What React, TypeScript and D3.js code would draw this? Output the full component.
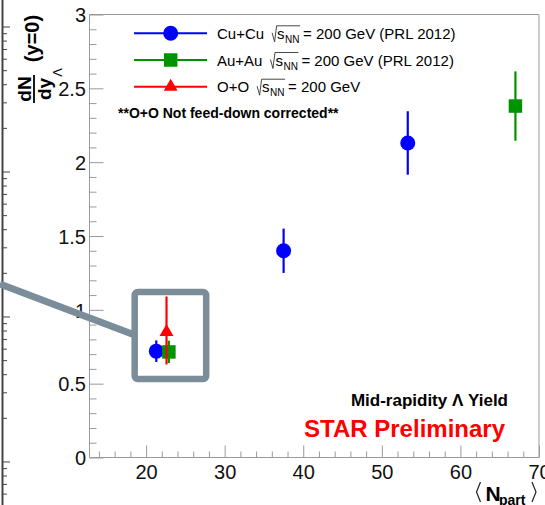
import React, {useEffect, useRef} from 'react';
import * as d3 from 'd3';

// Cu+Cu (PRL 2012)
const cuNpart = [21.3, 37.5, 53.3];
const cuYield = [0.72, 1.40, 2.13];
const cuErr = [0.073, 0.15, 0.215];

// Au+Au (PRL 2012)
const auNpart = [22.9, 67.0];
const auYield = [0.715, 2.38];
const auErr = [0.076, 0.235];

// O+O, asymmetric bars
const ooNpart = [22.6];
const ooYield = [0.85];
const ooErrLo = [0.22];
const ooErrHi = [0.24];

const xTicks = [20, 30, 40, 50, 60, 70];
const yTicks = [0, 0.5, 1, 1.5, 2, 2.5, 3];
const yTickLabels = ['0', '0.5', '1', '1.5', '2', '2.5', '3'];

const legendNames = ['Cu+Cu', 'Au+Au', 'O+O'];
const legendTails = ['= 200 GeV (PRL 2012)', '= 200 GeV (PRL 2012)', '= 200 GeV'];
const legendColors = ['#0000ff', '#009300', '#ff0000'];
const legendShapes = ['circle', 'square', 'triangle'];

// zoom box around the small systems, data units: [x0, x1, y0, y1]
const zoomBox = [18.55, 27.65, 0.531, 1.12];
const zoomLine = [1.4, 1.175, 18.55, 0.83];

const W = 545, H = 505;
const font = 'Liberation Sans, Arial, Helvetica, sans-serif';
const slate = '#7a8d98';
const frame = '#9a9a9a';

const symbolFor = (shape: string) => {
	if(shape === 'circle') return d3.symbol(d3.symbolCircle, 177)();
	if(shape === 'square') return d3.symbol(d3.symbolSquare, 182)();
	return d3.symbol(d3.symbolTriangle, 84)();
};

export default function App(){

	const svgRef = useRef<SVGSVGElement>(null);

	useEffect(() => {
		const svg = d3.select(svgRef.current);
		svg.selectAll('*').remove();

		const x = d3.scaleLinear().domain([12.8, 70]).range([89.5, 539]);
		const y = d3.scaleLinear().domain([0, 3]).range([457.5, 14.5]);

		//neighbouring pad's log axis peeking in at the left edge
		const ghost = d3.scaleLog().domain([0.5, 1500]).range([505.6, 1.5]);
		svg.append('line').attr('x1', 2.5).attr('x2', 2.5).attr('y1', 0).attr('y2', H)
			.attr('stroke', '#444').attr('stroke-width', 2);
		svg.append('g').selectAll('line').data(ghost.ticks()).join('line')
			.attr('x1', 2.5)
			.attr('x2', d => Math.abs(Math.log10(d) - Math.round(Math.log10(d))) < 1e-6 ? 10 : 7)
			.attr('y1', d => ghost(d)).attr('y2', d => ghost(d))
			.attr('stroke', '#444').attr('stroke-width', 1);

		//frame
		svg.append('line').attr('x1', 89.5).attr('x2', 539).attr('y1', 14.5).attr('y2', 14.5)
			.attr('stroke', frame);
		svg.append('line').attr('x1', 539).attr('x2', 539).attr('y1', 14.5).attr('y2', 457.5)
			.attr('stroke', '#cccccc').attr('stroke-width', 2);
		svg.append('line').attr('x1', 89.5).attr('x2', 89.5).attr('y1', 14.5).attr('y2', 457.5)
			.attr('stroke', frame);
		svg.append('line').attr('x1', 89.5).attr('x2', 539).attr('y1', 457.5).attr('y2', 457.5)
			.attr('stroke', frame);

		//axes
		const yMinor = d3.range(0, 30.5, 1).map(d => d / 10).filter(d => Math.abs(d * 2 - Math.round(d * 2)) > 1e-6);
		const xMinor = d3.range(14, 71, 2).filter(d => d % 10 !== 0);

		const styleAxis = (g: any, size: number) => {
			g.select('.domain').remove();
			g.selectAll('line').attr('stroke', frame);
			g.selectAll('text').attr('fill', '#111').style('font-family', font).style('font-size', size + 'px');
		};

		svg.append('g').attr('transform', 'translate(89.5,0)')
			.call(d3.axisLeft(y).tickValues(yMinor).tickSize(-7).tickFormat(() => ''))
			.call((g: any) => styleAxis(g, 20));
		svg.append('g').attr('transform', 'translate(89.5,0)')
			.call(d3.axisLeft(y).tickValues(yTicks).tickSize(-14).tickPadding(3.5)
				.tickFormat((d, i) => yTickLabels[i]))
			.call((g: any) => styleAxis(g, 20))
			.selectAll('text').attr('dy', '0.36em');

		svg.append('g').attr('transform', 'translate(0,457.5)')
			.call(d3.axisBottom(x).tickValues(xMinor).tickSize(-6).tickFormat(() => ''))
			.call((g: any) => styleAxis(g, 20));
		svg.append('g').attr('transform', 'translate(0,457.5)')
			.call(d3.axisBottom(x).tickValues(xTicks).tickSize(-12).tickPadding(7.3))
			.call((g: any) => styleAxis(g, 20));

		//y title
		const yt = svg.append('g').style('font-family', font).attr('fill', '#000');
		yt.append('text').attr('transform', 'translate(31,89) rotate(-90)')
			.attr('text-anchor', 'middle').attr('font-weight', 'bold').attr('font-size', 19).text('dN');
		yt.append('line').attr('x1', 34).attr('x2', 34).attr('y1', 75).attr('y2', 103)
			.attr('stroke', '#000').attr('stroke-width', 1.8);
		yt.append('text').attr('transform', 'translate(51,89) rotate(-90)')
			.attr('text-anchor', 'middle').attr('font-weight', 'bold').attr('font-size', 19).text('dy');
		yt.append('text').attr('transform', 'translate(62,72.5) rotate(-90)')
			.attr('text-anchor', 'middle').attr('font-size', 13).text('Λ');
		yt.append('text').attr('transform', 'translate(38.5,38.5) rotate(-90)')
			.attr('text-anchor', 'middle').attr('font-weight', 'bold').attr('font-size', 20).text('(y=0)');

		//x title
		const xt = svg.append('g').style('font-family', font).attr('fill', '#000');
		xt.append('path').attr('d', 'M480.5,482 L476.5,492 L480.5,502')
			.attr('fill', 'none').attr('stroke', '#222').attr('stroke-width', 1.2);
		xt.append('text').attr('x', 485.5).attr('y', 500.5)
			.attr('font-weight', 'bold').attr('font-size', 21).text('N');
		xt.append('text').attr('x', 499).attr('y', 504.5)
			.attr('font-weight', 'bold').attr('font-size', 14).text('part');
		xt.append('path').attr('d', 'M532,482 L536,492 L532,502')
			.attr('fill', 'none').attr('stroke', '#222').attr('stroke-width', 1.2);

		//data
		const drawSeries = (nx: number[], vy: number[], lo: number[], hi: number[], color: string, shape: string) => {
			const g = svg.append('g');
			nx.forEach((n, i) => {
				g.append('line')
					.attr('x1', x(n)).attr('x2', x(n))
					.attr('y1', y(vy[i] - lo[i])).attr('y2', y(vy[i] + hi[i]))
					.attr('stroke', color).attr('stroke-width', 2.2);
				g.append('path')
					.attr('transform', `translate(${x(n)},${y(vy[i])})`)
					.attr('d', symbolFor(shape))
					.attr('fill', color);
			});
		};
		drawSeries(cuNpart, cuYield, cuErr, cuErr, legendColors[0], 'circle');
		drawSeries(auNpart, auYield, auErr, auErr, legendColors[1], 'square');
		drawSeries(ooNpart, ooYield, ooErrLo, ooErrHi, legendColors[2], 'triangle');

		//zoom box annotation
		svg.append('line')
			.attr('x1', x(zoomLine[0])).attr('y1', y(zoomLine[1]))
			.attr('x2', x(zoomLine[2])).attr('y2', y(zoomLine[3]))
			.attr('stroke', slate).attr('stroke-width', 7);
		svg.append('rect')
			.attr('x', x(zoomBox[0])).attr('y', y(zoomBox[3]))
			.attr('width', x(zoomBox[1]) - x(zoomBox[0]))
			.attr('height', y(zoomBox[2]) - y(zoomBox[3]))
			.attr('rx', 3)
			.attr('fill', 'none').attr('stroke', slate).attr('stroke-width', 6.5);

		//legend
		const lg = svg.append('g').style('font-family', font);
		legendNames.forEach((name, i) => {
			const cy = 33.3 + i * 26.7;
			const base = cy + 5.5;
			lg.append('line').attr('x1', 134).attr('x2', 207).attr('y1', cy).attr('y2', cy)
				.attr('stroke', legendColors[i]).attr('stroke-width', 2);
			lg.append('path').attr('transform', `translate(170.7,${cy})`)
				.attr('d', symbolFor(legendShapes[i])).attr('fill', legendColors[i]);
			const t0 = lg.append('text').attr('x', 217).attr('y', base)
				.attr('font-size', 15).attr('fill', '#000').text(name);
			const w0 = (t0.node() as SVGTextElement).getComputedTextLength();
			const r = 217 + w0 + 8;
			const ts = lg.append('text').attr('x', r + 5).attr('y', base)
				.attr('font-size', 15).attr('fill', '#000').text('s');
			const ws = (ts.node() as SVGTextElement).getComputedTextLength();
			const tn = lg.append('text').attr('x', r + 5 + ws + 0.5).attr('y', base + 4)
				.attr('font-size', 10).attr('fill', '#000').text('NN');
			const wn = (tn.node() as SVGTextElement).getComputedTextLength();
			const end = r + 5 + ws + 0.5 + wn + 0.5;
			lg.append('path')
				.attr('d', `M${r},${base - 6} L${r + 2.5},${base + 3} L${r + 4.5},${base - 13} L${end},${base - 13}`)
				.attr('fill', 'none').attr('stroke', '#333').attr('stroke-width', 0.9);
			lg.append('text').attr('x', end + 3).attr('y', base)
				.attr('font-size', 15).attr('fill', '#000').text(legendTails[i]);
		});
		lg.append('text').attr('x', 118).attr('y', 118.3)
			.attr('font-size', 14).attr('font-weight', 'bold').attr('fill', '#000')
			.text('**O+O Not feed-down corrected**');

		//labels bottom right
		svg.append('text').attr('x', 508).attr('y', 406).attr('text-anchor', 'end')
			.style('font-family', font).attr('font-size', 17).attr('font-weight', 'bold').attr('fill', '#000')
			.text('Mid-rapidity Λ Yield');
		svg.append('text').attr('x', 505).attr('y', 437).attr('text-anchor', 'end')
			.style('font-family', font).attr('font-size', 24).attr('font-weight', 'bold').attr('fill', '#ff0000')
			.text('STAR Preliminary');
	}, []);

	return (
		<svg
			ref={svgRef}
			width={W}
			height={H}
			style={{position: 'absolute', left: 0, top: 0, background: '#fff'}}
		/>
	);
}
